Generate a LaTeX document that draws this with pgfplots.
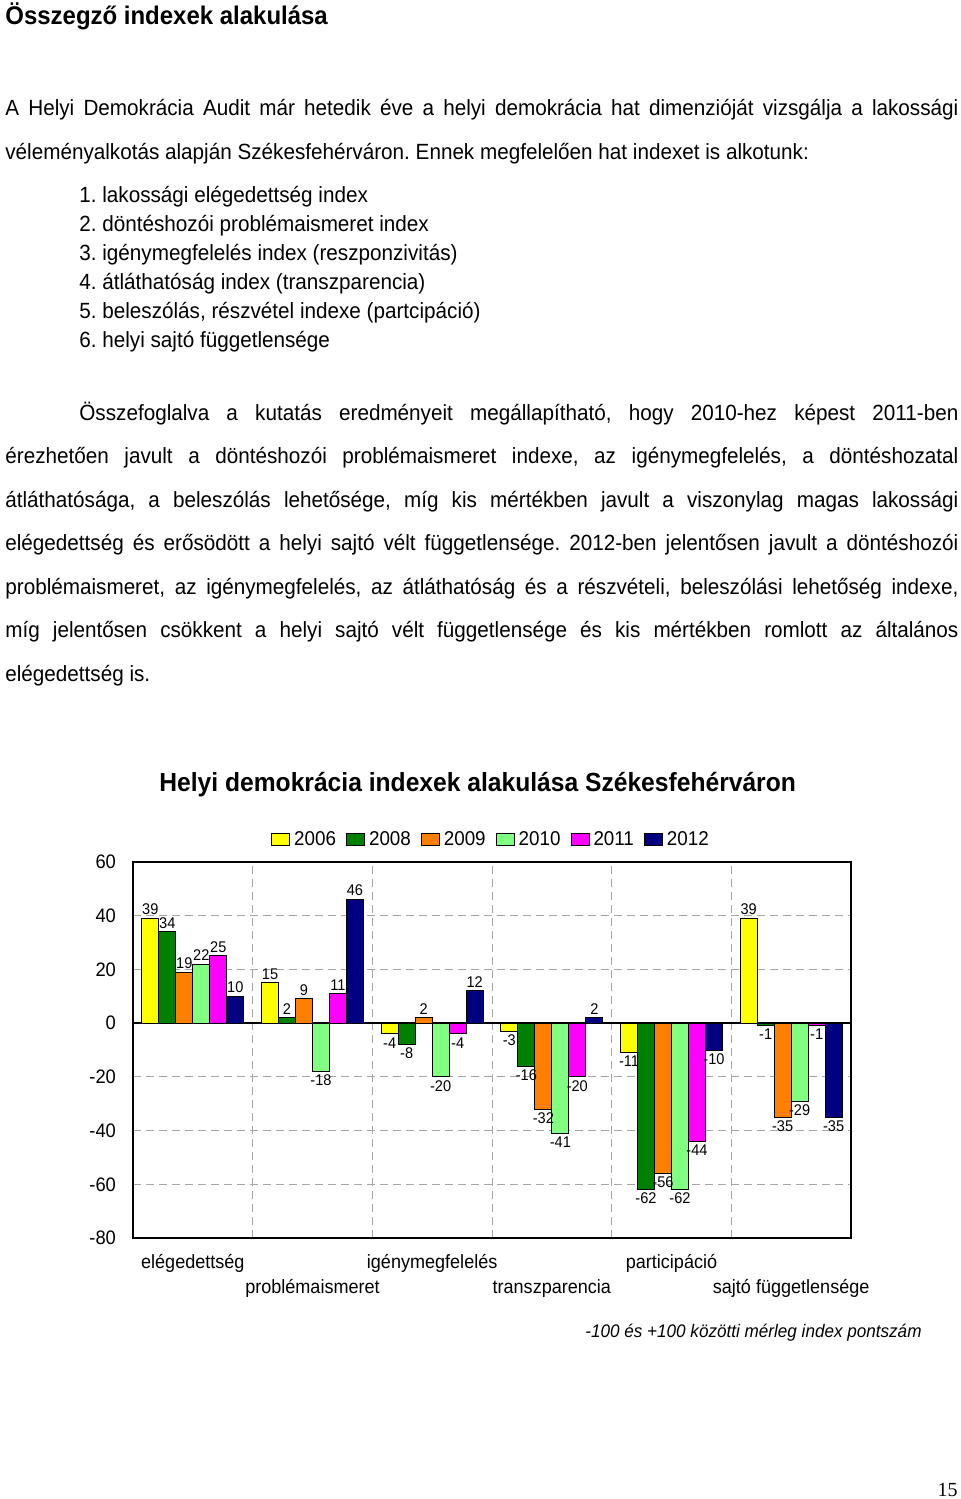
\documentclass[border=0pt]{standalone}
\usepackage{pgfplots}
\pgfplotsset{compat=1.18}
\usepackage{pgfplotstable}
\usepackage{fontspec}
\setmainfont{Liberation Sans}[FakeStretch=0.94]
\newfontfamily\timesfont{Liberation Serif}
\frenchspacing

\definecolor{c06}{RGB}{255,255,0}
\definecolor{c08}{RGB}{0,128,0}
\definecolor{c09}{RGB}{255,128,0}
\definecolor{c10}{RGB}{128,255,128}
\definecolor{c11}{RGB}{255,0,255}
\definecolor{c12}{RGB}{0,0,128}

% index values per dimension (rows) and year (columns)
\pgfplotstableread{
x y06 y08 y09 y10 y11 y12
0  39  34  19  22  25  10
1  15   2   9 -18  11  46
2  -4  -8   2 -20  -4  12
3  -3 -16 -32 -41 -20   2
4 -11 -62 -56 -62 -44 -10
5  39  -1 -35 -29  -1 -35
}\indexdata

\newcommand\fs[1]{\fontsize{#1}{#1}\selectfont}
% justified line: x, baseline y (px), width (pt), text
\newcommand\jline[4]{\node[anchor=base west, inner sep=0pt, font=\fs{11}] at (#1,#2) {\hbox to #3{#4}};}
\newcommand\tline[3]{\node[anchor=base west, inner sep=0pt, font=\fs{11}] at (#1,#2) {#3};}

\begin{document}
\begin{tikzpicture}
\begin{scope}[x=0.5pt,y=-0.5pt]
\useasboundingbox (0,0) rectangle (960,1499);
\node[anchor=base west, inner sep=0pt, font=\bfseries\fs{12.75}] at (5,25) {Összegző indexek alakulása};

\jline{5}{115}{476.5pt}{A Helyi Demokrácia Audit már hetedik éve a helyi demokrácia hat dimenzióját vizsgálja a lakossági}
\tline{5}{159}{véleményalkotás alapján Székesfehérváron. Ennek megfelelően hat indexet is alkotunk:}

\tline{79}{202}{1. lakossági elégedettség index}
\tline{79}{231}{2. döntéshozói problémaismeret index}
\tline{79}{260}{3. igénymegfelelés index (reszponzivitás)}
\tline{79}{289}{4. átláthatóság index (transzparencia)}
\tline{79}{318}{5. beleszólás, részvétel indexe (partcipáció)}
\tline{79}{347}{6. helyi sajtó függetlensége}

\jline{79}{420}{439.5pt}{Összefoglalva a kutatás eredményeit megállapítható, hogy 2010-hez képest 2011-ben}
\jline{5}{463.5}{476.5pt}{érezhetően javult a döntéshozói problémaismeret indexe, az igénymegfelelés, a döntéshozatal}
\jline{5}{507}{476.5pt}{átláthatósága, a beleszólás lehetősége, míg kis mértékben javult a viszonylag magas lakossági}
\jline{5}{550.5}{476.5pt}{elégedettség és erősödött a helyi sajtó vélt függetlensége. 2012-ben jelentősen javult a döntéshozói}
\jline{5}{594}{476.5pt}{problémaismeret, az igénymegfelelés, az átláthatóság és a részvételi, beleszólási lehetőség indexe,}
\jline{5}{637.5}{476.5pt}{míg jelentősen csökkent a helyi sajtó vélt függetlensége és kis mértékben romlott az általános}
\tline{5}{681}{elégedettség is.}

\node[anchor=base west, inner sep=0pt, font=\bfseries\fs{13.1}] at (159,791) {Helyi demokrácia indexek alakulása Székesfehérváron};
\node[anchor=base west, inner sep=0pt, font=\itshape\fs{9.1}] at (585,1337) {-100 és +100 közötti mérleg index pontszám};
\node[anchor=base east, inner sep=0pt, font=\timesfont\fs{10}] at (958,1496) {15};
\end{scope}

\begin{axis}[
    at={(66.5pt,-619pt)}, anchor=south west,
    scale only axis, width=359pt, height=188pt,
    xmin=-0.5, xmax=5.5, ymin=-80, ymax=60,
    /pgf/number format/assume math mode=true,
    ytick={-80,-60,...,60},
    xtick={0,...,5},
    xticklabels={elégedettség, \raisebox{-12.5pt}{problémaismeret}, igénymegfelelés,
        \raisebox{-12.5pt}{transzparencia}, participáció, \raisebox{-12.5pt}{sajtó függetlensége}},
    minor xtick={0.5,1.5,...,4.5},
    xminorgrids=true, ymajorgrids=true,
    grid style={gray!70, dash pattern=on 4pt off 2.5pt, line width=0.5pt},
    major tick length=0pt, minor tick length=0pt,
    axis line style={line width=0.75pt},
    extra y ticks={0}, extra y tick labels={},
    extra y tick style={grid=major, major grid style={black, solid, line width=0.75pt}},
    yticklabel style={font=\fs{9.75}, xshift=-5pt},
    xticklabel style={font=\fs{9.6}, anchor=base, yshift=-15pt},
    ybar, bar width=0.142,
    every axis plot/.append style={draw=black, line width=0.5pt},
    nodes near coords,
    nodes near coords style={font=\fs{7.75}, inner sep=1.5pt, black},
    legend columns=6,
    legend style={at={(0.5,1)}, anchor=center, yshift=11pt, draw=none, fill=none,
        font=\fs{10}, nodes={inner sep=2pt},
        /tikz/every even column/.append style={column sep=3pt}},
    legend image code/.code={\draw[#1, draw=black, line width=0.5pt] (0pt,-3pt) rectangle (9pt,3pt);},
]
\addplot[fill=c06, bar shift=-0.355] table[x=x, y=y06] {\indexdata};
\addlegendentry{2006}
\addplot[fill=c08, bar shift=-0.213] table[x=x, y=y08] {\indexdata};
\addlegendentry{2008}
\addplot[fill=c09, bar shift=-0.071] table[x=x, y=y09] {\indexdata};
\addlegendentry{2009}
\addplot[fill=c10, bar shift=0.071] table[x=x, y=y10] {\indexdata};
\addlegendentry{2010}
\addplot[fill=c11, bar shift=0.213] table[x=x, y=y11] {\indexdata};
\addlegendentry{2011}
\addplot[fill=c12, bar shift=0.355] table[x=x, y=y12] {\indexdata};
\addlegendentry{2012}
\end{axis}
\end{tikzpicture}
\end{document}
